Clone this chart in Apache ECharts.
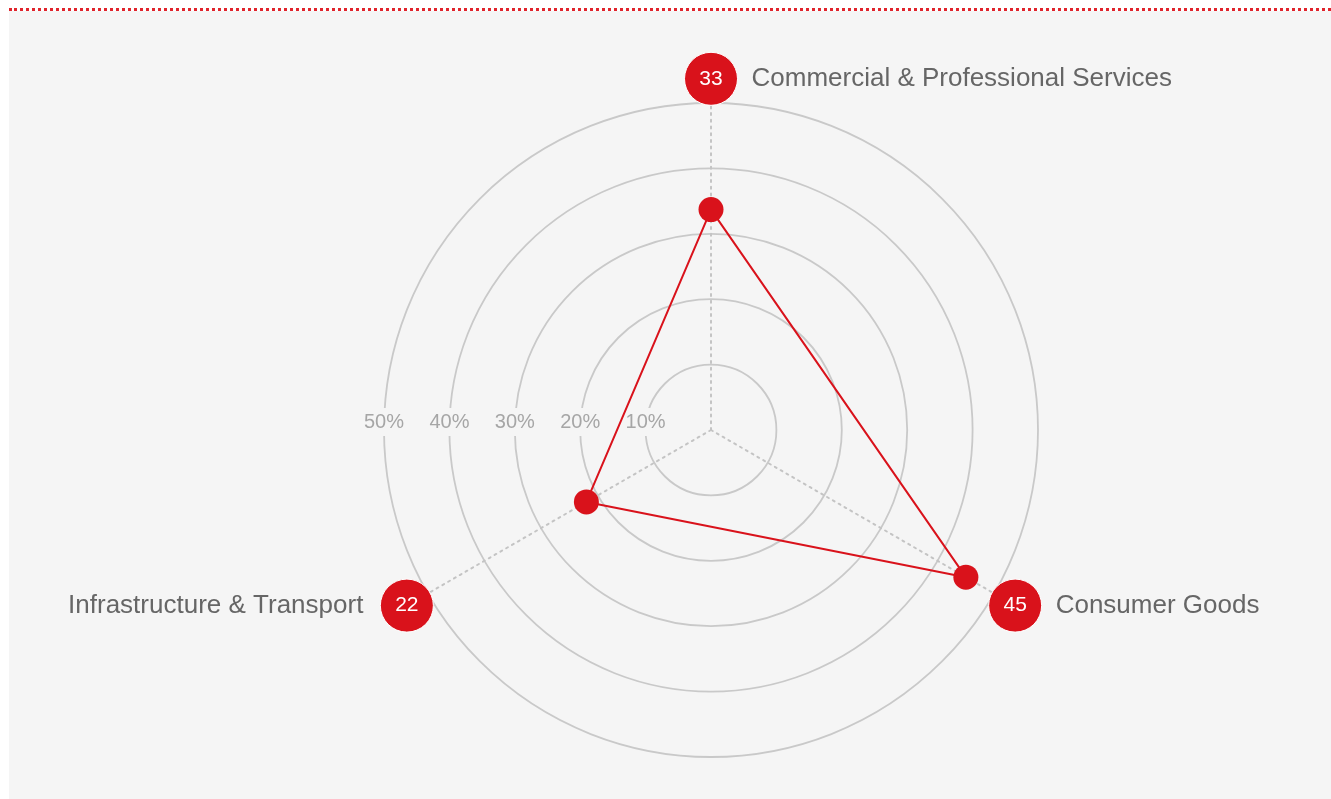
<!DOCTYPE html>
<html>
<head>
<meta charset="utf-8">
<script src="https://cdn.jsdelivr.net/npm/echarts@6/dist/echarts.min.js"></script>
<style>
  html, body { margin: 0; padding: 0; background: #ffffff; width: 1331px; height: 799px; overflow: hidden; }
  #bg { position: absolute; left: 9px; top: 11px; right: 0; bottom: 0; background: #f5f5f5; }
  #rule { position: absolute; left: 9px; top: 8px; right: 0; height: 0; border-top: 3px dotted #e0242c; }
  #chart { position: absolute; left: 0; top: 0; width: 1331px; height: 799px; }
</style>
</head>
<body>
<div id="bg"></div>
<div id="rule"></div>
<div id="chart"></div>
<script>
// ---- data ----
const categories = ['Commercial & Professional Services', 'Infrastructure & Transport', 'Consumer Goods'];
const scores = [33.7, 22, 45];
const badgeLabels = ['33', '22', '45'];
const tickValues = [10, 20, 30, 40, 50];
const tickLabels = ['10%', '20%', '30%', '40%', '50%'];

// ---- style ----
const RED = '#d9121b';
const GRID = '#c9c9c9';
const FONT = '"Liberation Sans", Arial, Helvetica, sans-serif';
const CENTER = [711, 430];
const RADIUS = 327;
const AXIS_MAX = tickValues[tickValues.length - 1];
const BADGE_R = AXIS_MAX * 1.074;

const chart = echarts.init(document.getElementById('chart'), null, { renderer: 'canvas' });

const badgeData = categories.map((c, i) => [BADGE_R, i]);

const option = {
  animation: false,
  backgroundColor: 'transparent',
  radar: {
    z: 0,
    center: CENTER,
    radius: RADIUS,
    shape: 'circle',
    startAngle: 90,
    splitNumber: tickValues.length,
    indicator: categories.map(c => ({ name: c, min: 0, max: AXIS_MAX })),
    axisName: { show: false },
    splitArea: { show: false },
    splitLine: { lineStyle: { color: GRID, width: 1.8 } },
    axisLine: { lineStyle: { color: '#c4c4c4', width: 2, type: [2, 4.7] } },
    axisTick: { show: false },
    axisLabel: { show: false }
  },
  polar: [
    { center: CENTER, radius: RADIUS },
    { center: CENTER, radius: RADIUS }
  ],
  angleAxis: [
    { polarIndex: 0, type: 'value', min: 0, max: 360, startAngle: 180, show: false },
    { polarIndex: 1, type: 'category', data: categories, startAngle: 90, clockwise: false, boundaryGap: false, show: false }
  ],
  radiusAxis: [
    {
      polarIndex: 0, type: 'value', min: 0, max: AXIS_MAX, interval: 10, z: 1,
      axisLine: { show: false }, axisTick: { show: false }, splitLine: { show: false },
      axisLabel: {
        showMinLabel: false,
        formatter: v => tickLabels[tickValues.indexOf(v)] || '',
        color: '#a6a6a6', fontSize: 20, fontFamily: FONT,
        verticalAlign: 'middle', align: 'center',
        margin: -8, lineHeight: 20,
        backgroundColor: '#f5f5f5', padding: [4, 3]
      }
    },
    { polarIndex: 1, type: 'value', min: 0, max: AXIS_MAX, show: false }
  ],
  series: [
    {
      type: 'radar',
      symbol: 'circle',
      symbolSize: 25,
      z: 3,
      lineStyle: { color: RED, width: 2 },
      itemStyle: { color: RED },
      data: [{ value: scores, name: 'Share' }]
    },
    {
      type: 'scatter',
      coordinateSystem: 'polar',
      polarIndex: 1,
      clip: false,
      z: 4,
      symbol: 'circle',
      symbolSize: 53,
      itemStyle: { color: RED, opacity: 1, borderColor: '#ffffff', borderWidth: 1 },
      label: {
        show: true, position: 'inside', color: '#ffffff', fontSize: 21, fontFamily: FONT,
        formatter: p => badgeLabels[p.dataIndex]
      },
      data: badgeData
    },
    {
      type: 'scatter',
      coordinateSystem: 'polar',
      polarIndex: 1,
      clip: false,
      z: 4,
      symbol: 'circle',
      symbolSize: 53,
      itemStyle: { color: 'rgba(0,0,0,0)', opacity: 1 },
      label: {
        show: true, color: '#666666', fontSize: 26, fontFamily: FONT,
        formatter: p => categories[p.dataIndex]
      },
      data: badgeData.map((d, i) => {
        const ang = (90 + i * 360 / categories.length) * Math.PI / 180;
        const left = Math.cos(ang) < -0.1;
        return { value: d, label: { position: left ? 'left' : 'right', distance: left ? 17 : 14 } };
      })
    }
  ]
};

chart.setOption(option);
</script>
</body>
</html>
